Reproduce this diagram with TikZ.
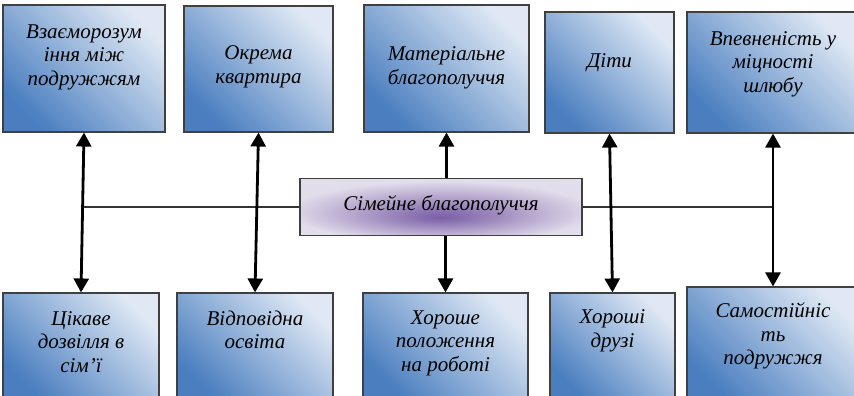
\documentclass[tikz,border=0pt]{standalone}
\usepackage{fontspec}
\setmainfont{Liberation Serif}
\usetikzlibrary{arrows.meta,positioning,calc}
\definecolor{bdark}{HTML}{4A7EBF}
\definecolor{blight}{HTML}{DFE8F4}
\definecolor{simin}{HTML}{7A5FA6}
\definecolor{simout}{HTML}{E2DDEB}
\pgfdeclareradialshading{simsh}{\pgfpoint{0bp}{-9bp}}{color(0bp)=(simin); color(6bp)=(simin!80!simout); color(27bp)=(simout); color(50bp)=(simout)}
\tikzset{
  box/.style={rectangle,draw=black!75,line width=1.1pt,top color=blight,bottom color=bdark,shading angle=-45,inner sep=0pt},
  mbox/.style={rectangle,draw=black!75,line width=1.1pt,shading=simsh,inner sep=0pt},
  lbl/.style={align=center,inner sep=0pt,font=\itshape\fontsize{21}{23.5}\selectfont},
  dar/.style={{Triangle[length=14pt,width=15pt]}-{Triangle[length=14pt,width=15pt]},line width=2.8pt},
  uar/.style={-{Triangle[length=14pt,width=15pt]},line width=2.8pt},
  ln/.style={line width=1.1pt,black!80}
}

\begin{document}
\begin{tikzpicture}[x=1pt,y=-1pt]
\clip (0,0) rectangle (854,396);
% top row
\node[box,minimum width=162,minimum height=127] (b1) at (84,68.5) {};
\node[box,minimum width=149,minimum height=126] (b2) at (258.5,69) {};
\node[box,minimum width=165,minimum height=127] (b3) at (446.5,68.5) {};
\node[box,minimum width=129,minimum height=121] (b4) at (609.5,72.5) {};
\node[box,minimum width=172,minimum height=121] (b5) at (773,72.5) {};
\node[lbl] (t1) at (84,57) {Взаєморозум\\іння між\\подружжям};
\node[lbl] (t2) at (258.5,67) {Окрема\\квартира};
\node[lbl] (t3) at (446.5,68) {Матеріальне\\благополуччя};
\node[lbl] (t4) at (609.5,63) {Діти};
\node[lbl] (t5) at (773,64) {Впевненість у\\міцності\\шлюбу};
% bottom row
\node[box,minimum width=156,minimum height=107] (c1) at (81,346.5) {};
\node[box,minimum width=156,minimum height=107] (c2) at (255,346.5) {};
\node[box,minimum width=165,minimum height=107] (c3) at (445.5,346.5) {};
\node[box,minimum width=125,minimum height=107] (c4) at (612.5,346.5) {};
\node[box,minimum width=172,minimum height=113] (c5) at (773,343.5) {};
\node[lbl] (s1) at (81,342) {Цікаве\\дозвілля в\\сім’ї};
\node[lbl] (s2) at (255,330) {Відповідна\\освіта};
\node[lbl] (s3) at (445.5,343) {Хороше\\положення\\на роботі};
\node[lbl] (s4) at (612.5,331) {Хороші\\друзі};
\node[lbl] (s5) at (773,336) {Самостійніс\\ть\\подружжя};
% middle
\node[mbox,minimum width=282,minimum height=57] (m) at (441,207) {};
\node[lbl] (mt) at (441,205) {Сімейне благополуччя};
\coordinate (hl) at (82,207);
\coordinate (hr) at (773,207);
\draw[ln] (hl) -- (m.west);
\draw[ln] (m.east) -- (hr);
\draw[dar] (b1.south) -- (c1.north);
\draw[dar] (b2.south) -- (c2.north);
\draw[uar] (m.north -| b3.south) -- (b3.south);
\draw[uar] (m.south -| c3.north) -- (c3.north);
\draw[dar] (b4.south) -- (c4.north);
\draw[dar] (b5.south) -- (c5.north);
\end{tikzpicture}
\end{document}
